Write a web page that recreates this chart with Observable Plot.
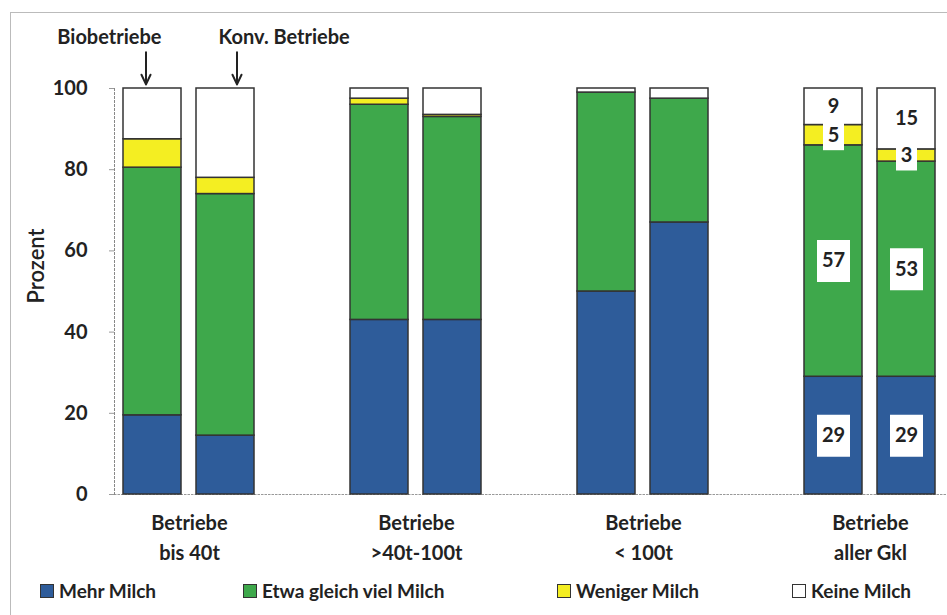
<!DOCTYPE html>
<html><head><meta charset="utf-8">
<script src="https://cdn.jsdelivr.net/npm/d3@7"></script>
<script src="https://cdn.jsdelivr.net/npm/@observablehq/plot@0.6"></script>
<style>
body{margin:0;background:#fff;font-family:Lato,sans-serif;}
#wrap{position:relative;width:947px;height:615px;overflow:hidden;background:#fff;}
#border{position:absolute;left:10px;top:12px;width:960px;height:620px;border-left:1px solid #bbb;border-top:1px solid #bbb;}
#chart{position:absolute;left:0;top:0;}
#legend{position:absolute;left:0;top:565px;width:947px;height:50px;}
.item{position:absolute;top:14px;display:flex;align-items:center;font-size:19px;font-weight:700;color:#222;white-space:nowrap;}
.sw{width:14px;height:14px;border:1px solid #333;margin-right:5px;box-sizing:border-box;}
</style></head><body>
<div id="wrap"><div id="border"></div><div id="chart"></div><div id="legend"></div></div>
<script>
// ---- data ----
const groups = ["Betriebe\nbis 40t", "Betriebe\n>40t-100t", "Betriebe\n< 100t", "Betriebe\naller Gkl"];
const types = ["Biobetriebe", "Konv. Betriebe"];
const series = ["Mehr Milch", "Etwa gleich viel Milch", "Weniger Milch", "Keine Milch"];
const colors = ["#2e5c9a", "#3ea84b", "#f4ee22", "#ffffff"];
// one value per bar, in order group × type (Bio, Konv)
const mehrMilch    = [19.5, 14.5, 43, 43, 50, 67, 29, 29];
const etwaGleich   = [61, 59.5, 53, 50, 49, 30.5, 57, 53];
const wenigerMilch = [7, 4, 1.5, 0.5, 0, 0, 5, 3];
const keineMilch   = [12.5, 22, 2.5, 6.5, 1, 2.5, 9, 15];
const yTicks = [0, 20, 40, 60, 80, 100];
const labelledGroup = groups[3];

// ---- build table ----
const seriesValues = [mehrMilch, etwaGleich, wenigerMilch, keineMilch];
const rows = [];
for (let i = 0; i < mehrMilch.length; i++) {
  const group = groups[Math.floor(i / 2)], type = types[i % 2];
  series.forEach((s, k) => rows.push({group, type, series: s, value: seriesValues[k][i]}));
}
const barTop = (g, t) => d3.sum(rows.filter(r => r.group === g && r.type === t), r => r.value);
const annotations = types.map(t => ({group: groups[0], type: t, text: t, top: barTop(groups[0], t)}));

const boxWide = {draw(ctx) { ctx.rect(-16.5, -21, 33, 42); }};
const boxNarrow = {draw(ctx) { ctx.rect(-10.5, -15, 21, 30); }};
const boxed = d => d.group === labelledGroup && d.series !== "Keine Milch";
const font = {fontSize: 20, fontWeight: "bold", fill: "#222"};

const chart = Plot.plot({
  width: 947, height: 565,
  marginTop: 88, marginBottom: 71, marginLeft: 113, marginRight: 1,
  style: {fontFamily: "Lato, sans-serif", background: "transparent", color: "#222"},
  fx: {domain: groups, paddingInner: 0.338, paddingOuter: 0, label: null},
  x: {domain: types, paddingInner: 0.2, paddingOuter: 0.12, axis: null},
  y: {domain: [0, 100], label: null},
  color: {domain: series, range: colors},
  marks: [
    Plot.frame({anchor: "bottom", stroke: "#999", strokeDasharray: "1.5,2", facet: "super"}),
    Plot.frame({anchor: "left", stroke: "#888", strokeDasharray: "2,2", facet: "super"}),
    Plot.axisY({ticks: yTicks, tickSize: 5, tickPadding: 22, ...font, stroke: "#999", label: null}),
    Plot.axisFx({anchor: "bottom", tickSize: 0, tickPadding: 14, ...font, lineHeight: 1.5, label: null}),
    Plot.text(["Prozent"], {frameAnchor: "left", rotate: -90, dx: -78, dy: 12, fontSize: 22, fontWeight: 600, fill: "#222", facet: "super"}),
    Plot.barY(rows, {fx: "group", x: "type", y: "value", fill: "series", stroke: "#333", strokeWidth: 1.5}),
    Plot.dot(rows, Plot.stackY({fx: "group", x: "type", y: "value", z: "series", symbol: boxWide,
      fill: d => boxed(d) && d.value >= 10 ? "white" : "none", stroke: null})),
    Plot.dot(rows, Plot.stackY({fx: "group", x: "type", y: "value", z: "series", symbol: boxNarrow,
      fill: d => boxed(d) && d.value < 10 ? "white" : "none", stroke: null})),
    Plot.text(rows, Plot.stackY({fx: "group", x: "type", y: "value", z: "series",
      text: d => d.group === labelledGroup ? String(d.value) : "", ...font})),
    Plot.text([annotations[0]], {fx: "group", x: "type", y: "top", text: "text", textAnchor: "end", dx: 9, dy: -51, ...font}),
    Plot.text([annotations[1]], {fx: "group", x: "type", y: "top", text: "text", textAnchor: "start", dx: -7, dy: -51, ...font}),
    Plot.arrow([annotations[0]], {fx: "group", x1: "type", x2: "type", y1: d => d.top + 8.9, y2: d => d.top + 1, dx: -6.5, stroke: "#222", strokeWidth: 2, headLength: 10, headAngle: 50}),
    Plot.arrow([annotations[1]], {fx: "group", x1: "type", x2: "type", y1: d => d.top + 8.9, y2: d => d.top + 1, dx: 11.5, stroke: "#222", strokeWidth: 2, headLength: 10, headAngle: 50})
  ]
});
document.getElementById("chart").appendChild(chart);

// ---- legend ----
const legendLeft = [40, 243, 557, 792];
const legend = document.getElementById("legend");
series.forEach((s, i) => {
  const item = document.createElement("div");
  item.className = "item";
  item.style.left = legendLeft[i] + "px";
  const sw = document.createElement("span");
  sw.className = "sw";
  sw.style.background = colors[i];
  item.appendChild(sw);
  item.appendChild(document.createTextNode(s));
  legend.appendChild(item);
});
</script>
</body></html>
